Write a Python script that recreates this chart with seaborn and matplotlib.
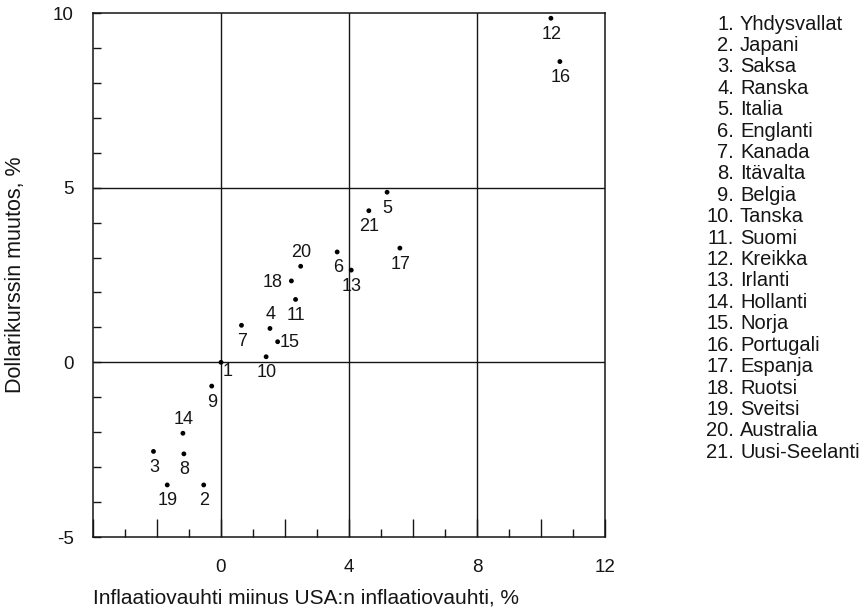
import numpy as np
import pandas as pd
import matplotlib
matplotlib.use("Agg")
import matplotlib.pyplot as plt
from matplotlib.ticker import MultipleLocator, FuncFormatter
import seaborn as sns

# ---- data ----
numbers = list(range(1, 22))
countries = ["Yhdysvallat", "Japani", "Saksa", "Ranska", "Italia", "Englanti",
             "Kanada", "Itävalta", "Belgia", "Tanska", "Suomi", "Kreikka",
             "Irlanti", "Hollanti", "Norja", "Portugali", "Espanja", "Ruotsi",
             "Sveitsi", "Australia", "Uusi-Seelanti"]
inflation_diff = [0.0, -0.54, -2.11, 1.53, 5.19, 3.63, 0.64, -1.16, -0.29, 1.41,
                  2.33, 10.31, 4.07, -1.19, 1.77, 10.59, 5.59, 2.20, -1.68, 2.49, 4.62]
dollar_change = [0.0, -3.51, -2.55, 0.97, 4.87, 3.16, 1.06, -2.62, -0.68, 0.16,
                 1.80, 9.85, 2.64, -2.03, 0.59, 8.61, 3.27, 2.33, -3.51, 2.75, 4.34]
x_tick_labels = ["0", "4", "8", "12"]
y_tick_labels = ["-5", "0", "5", "10"]
xlabel = "Inflaatiovauhti miinus USA:n inflaatiovauhti, %"
ylabel = "Dollarikurssin muutos, %"

# label placement relative to each point
placement = {20: "above", 4: "above", 14: "above", 18: "left", 15: "right", 1: "below_right"}
offsets_pt = {"below": (0.5, -11.5), "above": (0.5, 10.0), "left": (-13.5, -1.2),
              "right": (8.8, -0.6), "below_right": (5.0, -6.8)}

df = pd.DataFrame({"nr": numbers, "maa": countries,
                   "x": inflation_diff, "y": dollar_change})

sns.set_theme(style="white")
plt.rcParams["font.family"] = ["Liberation Sans", "DejaVu Sans"]

W, H = 864, 615
fig = plt.figure(figsize=(W / 100, H / 100), dpi=100)
L, R, T, B = 93, 605, 13, 537
ax = fig.add_axes([L / W, 1 - B / H, (R - L) / W, (B - T) / H])

sns.scatterplot(data=df, x="x", y="y", ax=ax, color="black", s=12,
                edgecolor="none", legend=False, zorder=3)

ax.set_xlim(-4, 12)
ax.set_ylim(-5, 10)

ink = "#151515"
for sp in ax.spines.values():
    sp.set_color(ink)
    sp.set_linewidth(1.1)
    sp.set_visible(True)

for gx in (0, 4, 8):
    ax.axvline(gx, color=ink, lw=1.0, zorder=1)
for gy in (0, 5):
    ax.axhline(gy, color=ink, lw=1.0, zorder=1)

# x ticks: tall at even, short at odd, labels at multiples of 4
ax.xaxis.set_major_locator(MultipleLocator(2))
ax.xaxis.set_minor_locator(MultipleLocator(1))
xlab_map = {float(s): s for s in x_tick_labels}
ax.xaxis.set_major_formatter(FuncFormatter(
    lambda v, p: xlab_map.get(float(round(v)), "") if abs(v - round(v)) < 1e-6 else ""))
ax.tick_params(axis="x", which="major", direction="in", length=13, width=1.0,
               color=ink, pad=16, labelsize=13.5, labelcolor=ink, bottom=True, top=False)
ax.tick_params(axis="x", which="minor", direction="in", length=6, width=1.0,
               color=ink, bottom=True, top=False)

ax.yaxis.set_major_locator(MultipleLocator(1))
ylab_map = {float(s): s for s in y_tick_labels}
ax.yaxis.set_major_formatter(FuncFormatter(
    lambda v, p: ylab_map.get(float(round(v)), "") if abs(v - round(v)) < 1e-6 else ""))
ax.tick_params(axis="y", which="major", direction="in", length=6, width=1.0,
               color=ink, pad=14, labelsize=13.5, labelcolor=ink, left=True, right=False)
ax.tick_params(axis="y", which="minor", left=False, right=False)

ax.set_xlabel(xlabel, fontsize=15, color=ink, ha="left")
ax.xaxis.set_label_coords(0.0, -0.098)
ax.set_ylabel(ylabel, fontsize=15.5, color=ink)
ax.yaxis.set_label_coords(-0.13, 0.5)

for n, xv, yv in zip(numbers, inflation_diff, dollar_change):
    dx, dy = offsets_pt[placement.get(n, "below")]
    ax.annotate(str(n), (xv, yv), xytext=(dx, dy), textcoords="offset points",
                ha="center", va="center", fontsize=13, color=ink, zorder=4)

# numbered country list on the right
for i, (n, name) in enumerate(zip(numbers, countries)):
    ybase = 29.7 + i * 21.4
    fig.text(734 / W, 1 - ybase / H, f"{n}.", ha="right", va="baseline",
             fontsize=14.5, color=ink)
    fig.text(740 / W, 1 - ybase / H, name, ha="left", va="baseline",
             fontsize=14.5, color=ink)

fig.savefig("out.png", dpi=100)
